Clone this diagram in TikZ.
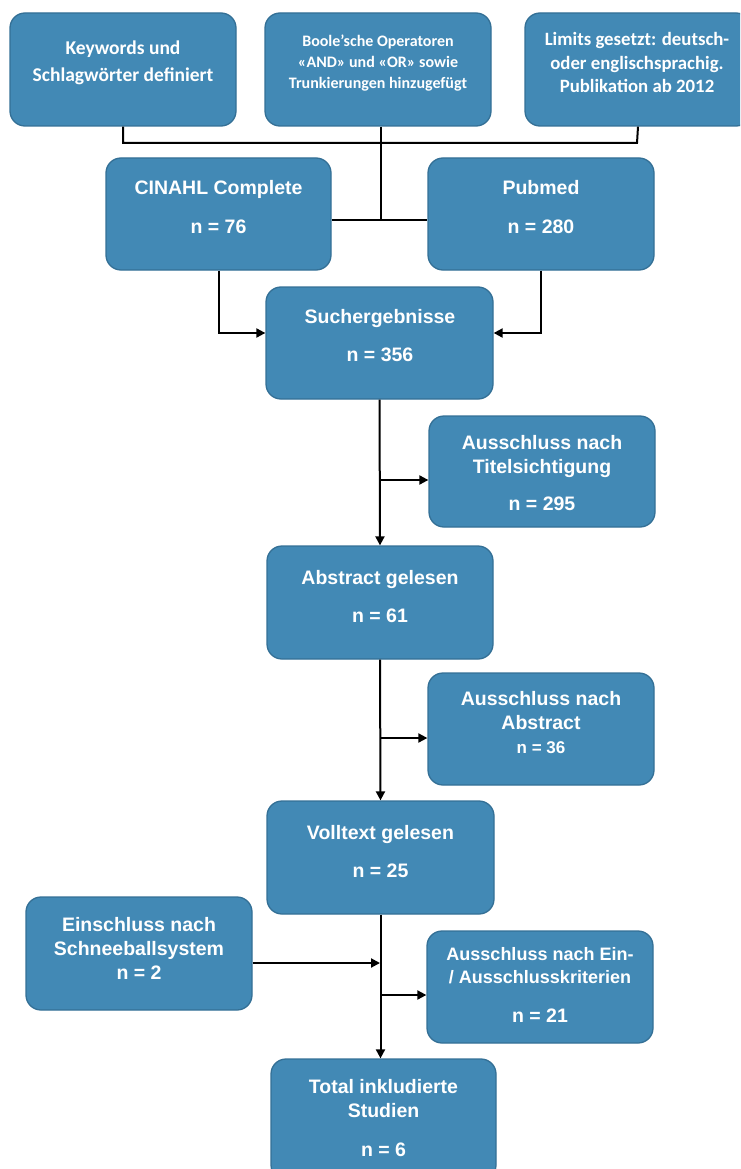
\documentclass[tikz,border=0pt]{standalone}
\usepackage{fontspec}
\setmainfont{Liberation Sans}
\newfontfamily\calib{Carlito}
\usetikzlibrary{arrows.meta}
\definecolor{boxfill}{RGB}{66,137,181}
\definecolor{boxline}{RGB}{52,112,150}
\tikzset{
  box/.style={draw=boxline, fill=boxfill, rounded corners=15pt, line width=1.3pt, inner sep=0pt},
  txt/.style={text=white, font=\bfseries\fontsize{19.5}{24}\selectfont, inner sep=0pt, align=center},
  toptxt/.style={text=white, font=\calib\bfseries\fontsize{19.5}{27}\selectfont, inner sep=0pt, align=center},
  line/.style={draw=black, line width=2pt},
  arr/.style={line, -{Triangle[length=9pt,width=9pt]}}
}
\newcommand\flowbox[5]{\node[box, minimum width={#4pt-#2pt}, minimum height={#5pt-#3pt}] (#1) at ({(#2+#4)/2},{(#3+#5)/2}) {};}
\begin{document}
\begin{tikzpicture}[x=1pt,y=-1pt]
\useasboundingbox (0,0) rectangle (740,1169);
\begin{scope}
\clip (0,0) rectangle (740,1169);
% boxes
\flowbox{kw}{10}{13}{236}{126}
\flowbox{boole}{265}{13}{491}{126}
\flowbox{lim}{525}{13}{751}{126}
\flowbox{cin}{106}{158}{331}{270}
\flowbox{pub}{428}{158}{654}{270}
\flowbox{such}{266}{287}{493}{399}
\flowbox{aus1}{429}{416}{655}{527}
\flowbox{abs}{267}{546}{493}{659}
\flowbox{aus2}{428}{673}{654}{785}
\flowbox{voll}{267}{801}{494}{914}
\flowbox{ein}{26}{897}{252}{1010}
\flowbox{aus3}{427}{931}{653}{1043}
\flowbox{tot}{271}{1059}{496}{1180}
\end{scope}
% texts
\node[toptxt] (kwt) at (123,63) {Keywords und\\Schlagwörter definiert};
\node[toptxt, font=\calib\bfseries\fontsize{16}{21}\selectfont] (boolet) at (378,63) {Boole’sche Operatoren\\«AND» und «OR» sowie\\Trunkierungen hinzugefügt};
\node[toptxt, font=\calib\bfseries\fontsize{18.8}{23.5}\selectfont] (limt) at (637,62.5) {Limits gesetzt: deutsch-\\oder englischsprachig.\\Publikation ab 2012};
\node[txt, font=\bfseries\fontsize{19.5}{39}\selectfont] (cint) at (218.5,207) {CINAHL Complete\\n = 76};
\node[txt, font=\bfseries\fontsize{19.5}{39}\selectfont] (pubt) at (541,207) {Pubmed\\n = 280};
\node[txt, font=\bfseries\fontsize{19.5}{38}\selectfont] (sucht) at (380,336) {Suchergebnisse\\n = 356};
\node[txt] (aus1t) at (542,473) {Ausschluss nach\\Titelsichtigung\\[13pt]n = 295};
\node[txt, font=\bfseries\fontsize{19.5}{38}\selectfont] (abst) at (380,597) {Abstract gelesen\\n = 61};
\node[txt] (aus2t) at (541,711) {Ausschluss nach\\Abstract};
\node[txt, font=\bfseries\fontsize{17}{20}\selectfont] (aus2n) at (541,748) {n = 36};
\node[txt, font=\bfseries\fontsize{19.5}{38}\selectfont] (vollt) at (380.5,852) {Volltext gelesen\\n = 25};
\node[txt] (eint) at (139,948) {Einschluss nach\\Schneeballsystem\\n = 2};
\node[txt, font=\bfseries\fontsize{18}{23}\selectfont] (aus3t) at (540,966) {Ausschluss nach Ein-\\/ Ausschlusskriterien};
\node[txt] (aus3n) at (540,1016) {n = 21};
\node[txt] (tott) at (383.5,1118) {Total inkludierte\\Studien\\[15pt]n = 6};
% connectors
\coordinate (busL) at (123,143);
\coordinate (busR) at (637,143);
\coordinate (mid) at (381,220);
\draw[line] (kw.south) -- (busL) -- (busR) -- (lim.south);
\draw[line] (boole.south -| mid) -- (mid);
\draw[line] (cin.east |- mid) -- (pub.west |- mid);
\draw[arr] (cin.south) |- ([yshift=10pt]such.west);
\draw[arr] (pub.south) |- ([yshift=10pt]such.east);
\draw[arr] (such.south) -- (abs.north);
\coordinate (b1) at (380,480);
\draw[arr] (b1) -- (b1 -| aus1.west);
\draw[arr] (abs.south) -- (voll.north);
\coordinate (b2) at (380,738);
\draw[arr] (b2) -- (b2 -| aus2.west);
\draw[arr] (voll.south) -- (voll.south |- tot.north);
\coordinate (b3) at (380,963);
\draw[arr] ([yshift=-9.5pt]ein.east) -- (b3);
\coordinate (b4) at (380,995);
\draw[arr] (b4) -- (b4 -| aus3.west);
\end{tikzpicture}
\end{document}
